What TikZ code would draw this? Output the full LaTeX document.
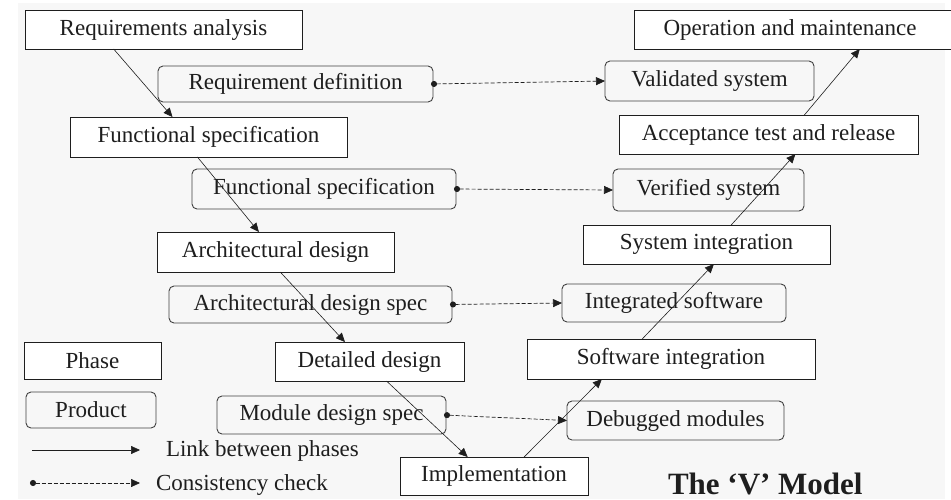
\documentclass[tikz,border=0pt]{standalone}
\usepackage{fontspec}
\setmainfont{Liberation Serif}
\usetikzlibrary{arrows.meta,calc}
\definecolor{bg}{RGB}{247,247,247}
\definecolor{ink}{RGB}{30,30,30}
\begin{document}
\begin{tikzpicture}[x=1pt,y=-1pt,
  every node/.style={font=\fontsize{23}{27}\selectfont, text=ink, inner sep=0pt, outer sep=0pt},
  phase/.style={draw=ink, line width=0.9pt, fill=white, rectangle},
  product/.style={draw=ink!85, line width=0.9pt, fill=bg, rounded corners=5pt},
  link/.style={draw=ink, line width=0.6pt, -{Triangle[length=9pt,width=8pt]}},
  check/.style={draw=ink, line width=0.7pt, dash pattern=on 4pt off 2pt, {Circle[length=6pt]}-{Triangle[length=9pt,width=8pt]}},
]
\useasboundingbox (0,0) rectangle (951,499);
\fill[bg] (18,3) rectangle (945,499);

% phases
\node[phase, minimum width=277pt, minimum height=39pt] (ra) at (163.5,29.5) {Requirements analysis};
\node[phase, minimum width=277pt, minimum height=40pt] (fsp) at (208.5,137) {Functional specification};
\node[phase, minimum width=237pt, minimum height=40pt] (ad) at (275.5,252) {Architectural design};
\node[phase, minimum width=189pt, minimum height=39pt] (dd) at (369.5,361.5) {Detailed design};
\node[phase, minimum width=188pt, minimum height=38pt] (impl) at (494,476) {Implementation};
\node[phase, minimum width=288pt, minimum height=40pt] (swi) at (671,359) {Software integration};
\node[phase, minimum width=247pt, minimum height=39pt] (sysi) at (706.5,244.5) {System integration};
\node[phase, minimum width=299pt, minimum height=39pt] (acc) at (768.5,134.5) {Acceptance test and release};
\node[phase, minimum width=318pt, minimum height=39pt] (om) at (793,29.5) {\hspace*{-6pt}Operation and maintenance};
\node[phase, minimum width=137pt, minimum height=37pt] (lphase) at (92.5,360.5) {Phase};

% products
\node[product, minimum width=275pt, minimum height=36pt] (rd) at (295.5,84) {Requirement definition};
\node[product, minimum width=264pt, minimum height=40pt] (fsr) at (324,189) {Functional specification};
\node[product, minimum width=283pt, minimum height=37pt] (ads) at (310.5,304.5) {Architectural design spec};
\node[product, minimum width=229pt, minimum height=38pt] (mds) at (331.5,415) {Module design spec};
\node[product, minimum width=209pt, minimum height=40pt] (vs) at (709.5,81) {Validated system};
\node[product, minimum width=191pt, minimum height=42pt] (ves) at (708.5,190) {Verified system};
\node[product, minimum width=224pt, minimum height=38pt] (is) at (674,303) {Integrated software};
\node[product, minimum width=217pt, minimum height=39pt] (dm) at (675.5,420.5) {Debugged modules};
\node[product, minimum width=130pt, minimum height=36pt] (lproduct) at (91,410) {Product};

% links between phases
\draw[link] ($(ra.south west)!0.32!(ra.south east)$) -- ($(fsp.north west)!0.37!(fsp.north east)$);
\draw[link] ($(fsp.south west)!0.46!(fsp.south east)$) -- ($(ad.north west)!0.43!(ad.north east)$);
\draw[link] ($(ad.south west)!0.52!(ad.south east)$) -- ($(dd.north west)!0.37!(dd.north east)$);
\draw[link] ($(dd.south west)!0.59!(dd.south east)$) -- ($(impl.north west)!0.36!(impl.north east)$);
\draw[link] ($(impl.north west)!0.66!(impl.north east)$) -- ($(swi.south west)!0.26!(swi.south east)$);
\draw[link] ($(swi.north west)!0.40!(swi.north east)$) -- ($(sysi.south west)!0.53!(sysi.south east)$);
\draw[link] ($(sysi.north west)!0.60!(sysi.north east)$) -- ($(acc.south west)!0.59!(acc.south east)$);
\draw[link] ($(acc.north west)!0.62!(acc.north east)$) -- ($(om.south west)!0.71!(om.south east)$);

% consistency checks
\draw[check] ($(rd.east)+(-2,0)$) -- (vs.west);
\draw[check] ($(fsr.east)+(-2,0)$) -- (ves.west);
\draw[check] ($(ads.east)+(-2,0)$) -- (is.west);
\draw[check] ($(mds.east)+(-2,0)$) -- (dm.west);

% legend
\coordinate (l1a) at (32,450);
\coordinate (l1b) at (140,450);
\coordinate (l2a) at (30,483);
\coordinate (l2b) at (140,483);
\draw[link] (l1a) -- (l1b);
\draw[check] (l2a) -- (l2b);
\node[anchor=base west] (llink) at (166,456) {Link between phases};
\node[anchor=base west] (lcheck) at (156,490) {Consistency check};

% title
\node[anchor=base west, font=\fontsize{31}{36}\selectfont\bfseries] (title) at (668,494) {The ‘V’ Model};
\end{tikzpicture}
\end{document}
